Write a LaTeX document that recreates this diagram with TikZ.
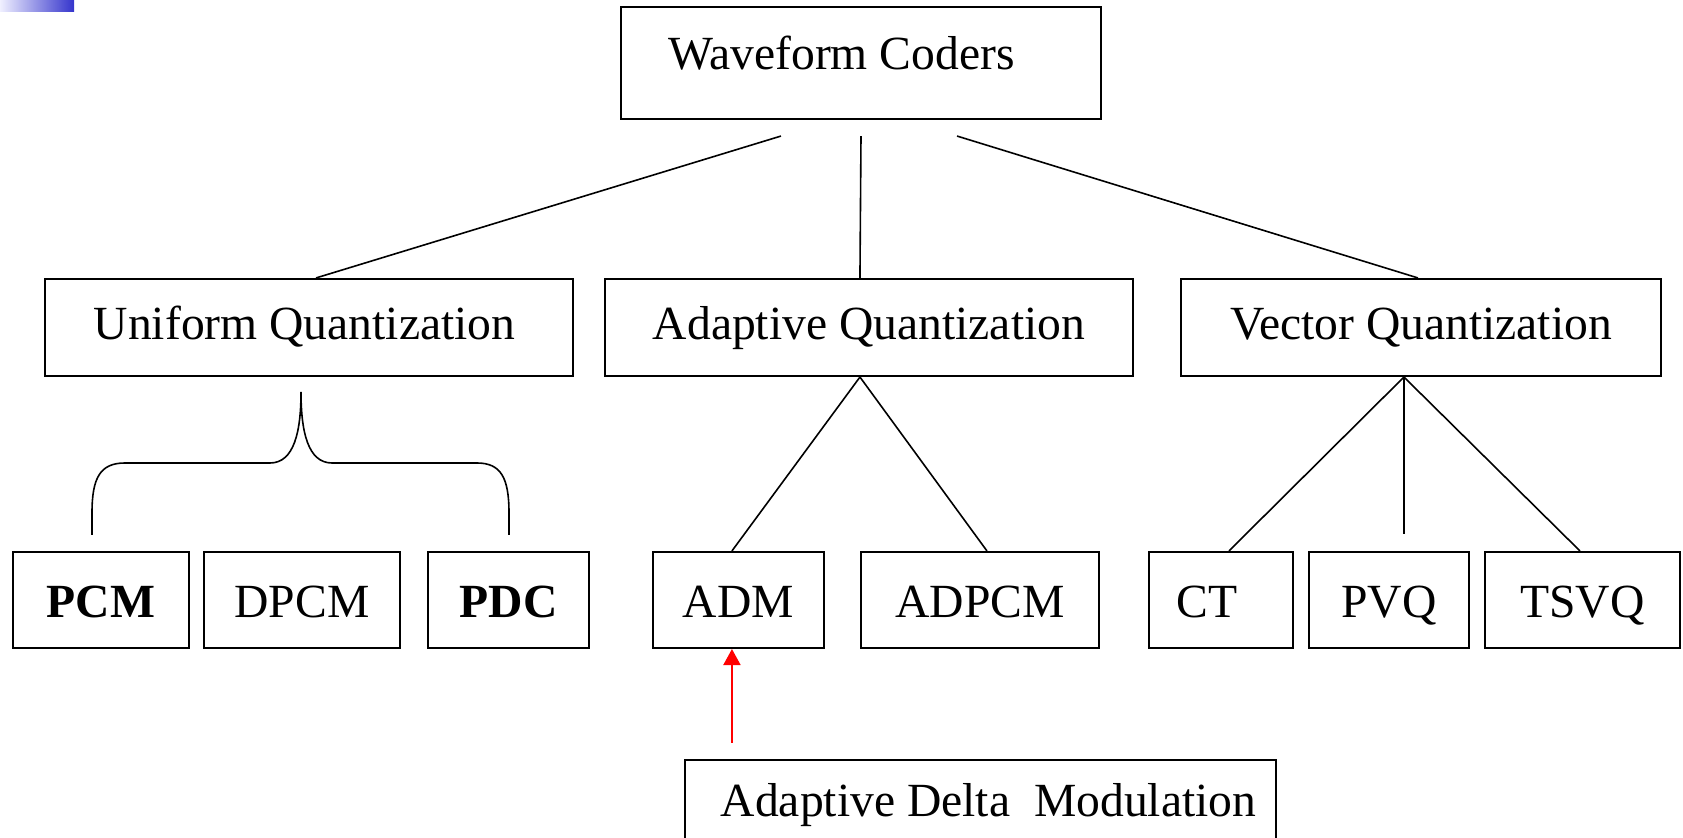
\documentclass[tikz,border=0pt]{standalone}
\usepackage{fontspec}
\setmainfont{Liberation Serif}
\usetikzlibrary{calc,arrows.meta}

% invisible spacer used to offset a label inside its box
\newcommand{\padby}[1]{\rule{#1}{0pt}}

\begin{document}
\begin{tikzpicture}[x=0.5pt,y=-0.5pt,
  box/.style={draw,line width=1.05pt,inner sep=0pt,text depth=0pt,
    font=\fontsize{23.8}{28}\selectfont},
  toprow/.style={box,text height=7pt},
  midrow/.style={box,minimum height=97*0.5pt,text height=12.5pt},
  lowrow/.style={box,minimum height=96*0.5pt,text height=18pt},
  link/.style={line width=0.8pt},
  brace/.style={line width=0.8pt},
  pointer/.style={draw=red,line width=1pt,-{Triangle[length=8pt,width=8.5pt]}}]

\useasboundingbox (0,0) rectangle (1683,838);
\clip (0,0) rectangle (1683,838);

% corner ribbon
\shade[left color=blue!6,right color={rgb,255:red,52;green,52;blue,204}]
  (0,0) rectangle (74,12);

% root
\node[toprow,minimum width=480*0.5pt,minimum height=112*0.5pt] (wc) at (861,63)
  {Waveform Coders\padby{19.5pt}};

% quantization families
\node[midrow,minimum width=528*0.5pt] (uq) at (308.6,327.5) {Uniform Quantization\padby{4pt}};
\node[midrow,minimum width=528*0.5pt] (aq) at (869,327.5) {Adaptive Quantization};
\node[midrow,minimum width=480*0.5pt] (vq) at (1421,327.5) {Vector Quantization};

% coders
\node[lowrow,minimum width=176*0.5pt] (pcm) at (101,600) {\bfseries PCM};
\node[lowrow,minimum width=196*0.5pt] (dpcm) at (302,600) {DPCM};
\node[lowrow,minimum width=161*0.5pt] (pdc) at (508.5,600) {\bfseries PDC};
\node[lowrow,minimum width=171*0.5pt] (adm) at (738.5,600) {ADM};
\node[lowrow,minimum width=238*0.5pt] (adpcm) at (980,600) {ADPCM};
\node[lowrow,minimum width=144*0.5pt] (ct) at (1221,600) {CT\padby{14pt}};
\node[lowrow,minimum width=160*0.5pt] (pvq) at (1389,600) {PVQ};
\node[lowrow,minimum width=195*0.5pt] (tsvq) at (1582.5,600) {TSVQ};

% expansion of ADM
\node[box,text height=15.75pt,minimum width=591*0.5pt,minimum height=82*0.5pt] (admfull)
  at (980.5,801) {\padby{8pt}Adaptive Delta\ \ Modulation};

% root to families
\draw[link] ($(wc.south)+(-80,16)$) -- ($(uq.north west)+(272.5,0)$);
\draw[link] ($(wc.south)+(0,16)$) -- ($(aq.north west)+(256,0)$);
\draw[link] ($(wc.south)+(96,16)$) -- ($(vq.north west)+(238,0)$);

% adaptive quantization branches
\coordinate (aqfork) at ($(aq.south west)+(256,0)$);
\draw[link] ($(adm.north west)+(80,0)$) -- (aqfork) -- ($(adpcm.north west)+(127,0)$);

% vector quantization branches
\coordinate (vqfork) at ($(vq.south west)+(224,0)$);
\coordinate (pvqend) at ($(pvq.north west)+(96,-17)$);
\draw[link] ($(ct.north west)+(81,0)$) -- (vqfork) -- ($(tsvq.north west)+(96,0)$);
\draw[link] (vqfork) -- (pvqend);

% brace under uniform quantization
\draw[brace] (92,535) -- (92,513)
  .. controls (92,478) and (100,463) .. (125,463) -- (270,463)
  .. controls (294,463) and (301,432) .. (301,392)
  .. controls (301,432) and (308,463) .. (332,463) -- (477,463)
  .. controls (501,463) and (509,478) .. (509,513) -- (509,535);

% pointer from the full name up to ADM
\coordinate (admtail) at ($(admfull.north west)+(48,-16)$);
\draw[pointer] (admtail) -- (admtail |- adm.south);

\end{tikzpicture}
\end{document}
